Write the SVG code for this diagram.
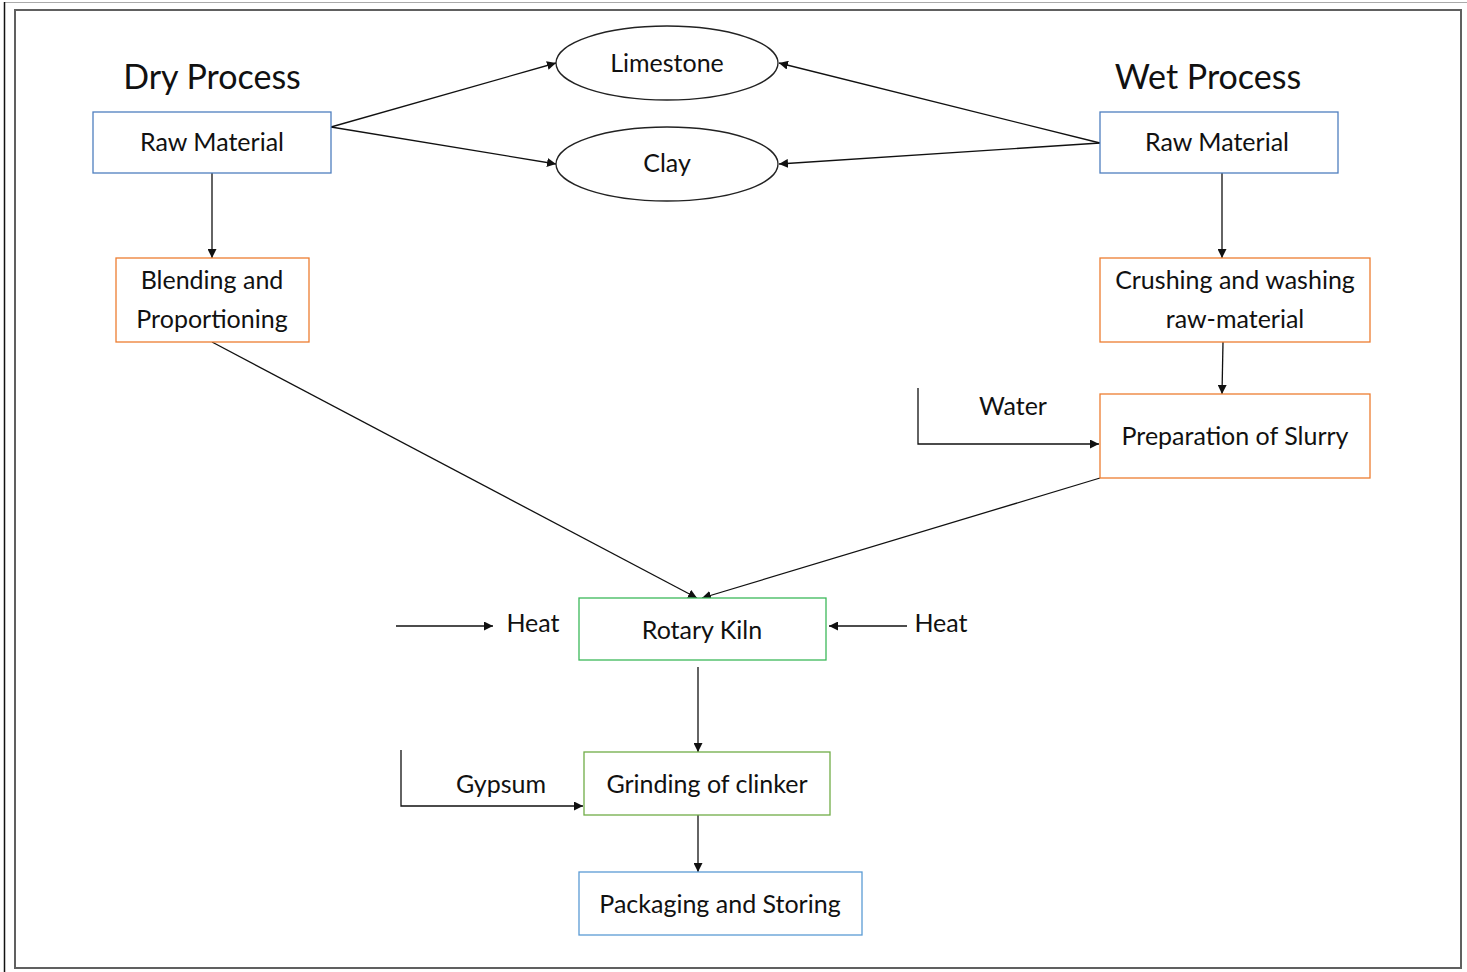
<svg xmlns="http://www.w3.org/2000/svg" width="1467" height="972" viewBox="0 0 1467 972">
  <style>
    text { font-family: Lato, "Open Sans", "Liberation Sans", sans-serif; fill: #111; text-anchor: middle; dominant-baseline: central; }
    .lbl { font-size: 25px; }
    .title { font-size: 34px; }
    .box { fill: #fff; stroke-width: 1.3; }
    .blue { stroke: #4f7fbf; }
    .lblue { stroke: #5b9bd5; }
    .orange { stroke: #ed7d31; }
    .green { stroke: #3cb95a; }
    .olive { stroke: #70ad47; }
    .ell { fill: #fff; stroke: #222; stroke-width: 1.3; }
    .conn { fill: none; stroke: #111; stroke-width: 1.3; }
  </style>
  <defs>
    <marker id="arrow" viewBox="0 0 10 10" refX="10" refY="5" markerWidth="9" markerHeight="9" markerUnits="userSpaceOnUse" orient="auto">
      <path d="M0,0 L10,5 L0,10 z" fill="#111"/>
    </marker>
  </defs>

  <!-- page frame -->
  <g id="frame">
    <line x1="4" y1="2.5" x2="1467" y2="2.5" stroke="#aaa" stroke-width="1.2"/>
    <line x1="4.5" y1="2" x2="4.5" y2="972" stroke="#111" stroke-width="1.5"/>
    <rect x="15" y="10" width="1446" height="958" fill="none" stroke="#606060" stroke-width="2"/>
  </g>

  <!-- headings -->
  <text class="title" x="212" y="75">Dry Process</text>
  <text class="title" x="1208" y="75">Wet Process</text>

  <!-- connectors -->
  <g id="connectors">
    <line class="conn" x1="331" y1="127" x2="556" y2="63" marker-end="url(#arrow)"/>
    <line class="conn" x1="331" y1="127" x2="556" y2="164" marker-end="url(#arrow)"/>
    <line class="conn" x1="1100" y1="143" x2="779" y2="63" marker-end="url(#arrow)"/>
    <line class="conn" x1="1100" y1="143" x2="779" y2="164" marker-end="url(#arrow)"/>
    <line class="conn" x1="212" y1="173" x2="212" y2="258" marker-end="url(#arrow)"/>
    <line class="conn" x1="1222" y1="173" x2="1222" y2="258" marker-end="url(#arrow)"/>
    <line class="conn" x1="1223" y1="342" x2="1222" y2="394" marker-end="url(#arrow)"/>
    <polyline class="conn" points="918,388 918,444 1099,444" marker-end="url(#arrow)"/>
    <line class="conn" x1="212" y1="342" x2="697" y2="598" marker-end="url(#arrow)"/>
    <line class="conn" x1="1100" y1="478" x2="702" y2="598" marker-end="url(#arrow)"/>
    <line class="conn" x1="396" y1="626" x2="493" y2="626" marker-end="url(#arrow)"/>
    <line class="conn" x1="907" y1="626" x2="829" y2="626" marker-end="url(#arrow)"/>
    <line class="conn" x1="698" y1="667" x2="698" y2="752" marker-end="url(#arrow)"/>
    <polyline class="conn" points="401,750 401,806 583,806" marker-end="url(#arrow)"/>
    <line class="conn" x1="698" y1="815" x2="698" y2="872" marker-end="url(#arrow)"/>
  </g>

  <!-- input labels -->
  <text class="lbl" x="1013" y="405">Water</text>
  <text class="lbl" x="533" y="622">Heat</text>
  <text class="lbl" x="941" y="622">Heat</text>
  <text class="lbl" x="501" y="783">Gypsum</text>

  <!-- nodes -->
  <g id="raw-dry">
    <rect class="box blue" x="93" y="112" width="238" height="61"/>
    <text class="lbl" x="212" y="141">Raw Material</text>
  </g>
  <g id="raw-wet">
    <rect class="box blue" x="1100" y="112" width="238" height="61"/>
    <text class="lbl" x="1217" y="141">Raw Material</text>
  </g>
  <g id="limestone">
    <ellipse class="ell" cx="667" cy="63" rx="111" ry="37"/>
    <text class="lbl" x="667" y="62">Limestone</text>
  </g>
  <g id="clay">
    <ellipse class="ell" cx="667" cy="164" rx="111" ry="37"/>
    <text class="lbl" x="667" y="162">Clay</text>
  </g>
  <g id="blending">
    <rect class="box orange" x="116" y="258" width="193" height="84"/>
    <text class="lbl" x="212" y="279">Blending and</text>
    <text class="lbl" x="212" y="318">Proportioning</text>
  </g>
  <g id="crushing">
    <rect class="box orange" x="1100" y="258" width="270" height="84"/>
    <text class="lbl" x="1235" y="279">Crushing and washing</text>
    <text class="lbl" x="1235" y="318">raw-material</text>
  </g>
  <g id="slurry">
    <rect class="box orange" x="1100" y="394" width="270" height="84"/>
    <text class="lbl" x="1235" y="435">Preparation of Slurry</text>
  </g>
  <g id="kiln">
    <rect class="box green" x="579" y="598" width="247" height="62"/>
    <text class="lbl" x="702" y="629">Rotary Kiln</text>
  </g>
  <g id="grinding">
    <rect class="box olive" x="584" y="752" width="246" height="63"/>
    <text class="lbl" x="707" y="783">Grinding of clinker</text>
  </g>
  <g id="packaging">
    <rect class="box lblue" x="579" y="872" width="283" height="63"/>
    <text class="lbl" x="720" y="903">Packaging and Storing</text>
  </g>
</svg>
